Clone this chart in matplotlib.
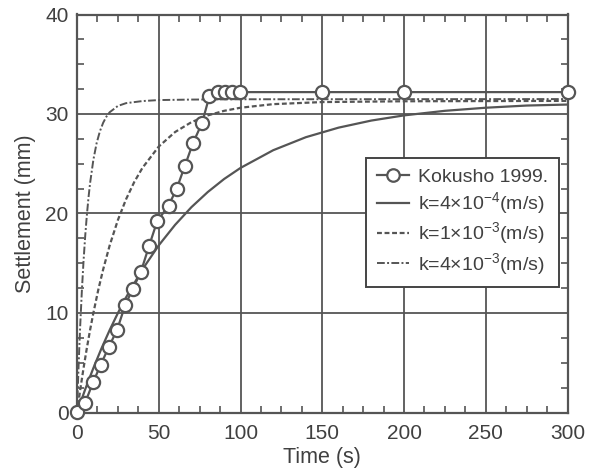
import matplotlib
matplotlib.use("Agg")
import matplotlib.pyplot as plt
from matplotlib.ticker import MultipleLocator

plt.rcParams['font.family'] = ['Liberation Sans', 'DejaVu Sans']
plt.rcParams['mathtext.fontset'] = 'custom'
plt.rcParams['mathtext.rm'] = 'Liberation Sans'
plt.rcParams['mathtext.it'] = 'Liberation Sans:italic'
plt.rcParams['mathtext.default'] = 'regular'

# Observed data (Kokusho 1999)
t_obs = [0, 5, 10, 14.5, 19.5, 24.5, 29.5, 34, 39, 44, 49, 56, 61, 66, 71, 76.5,
         81, 86, 90.5, 95, 99.5, 150, 200, 300]
s_obs = [0.1, 1.0, 3.1, 4.8, 6.6, 8.3, 10.8, 12.4, 14.1, 16.7, 19.2, 20.8, 22.5,
         24.8, 27.1, 29.1, 31.8, 32.2, 32.2, 32.2, 32.2, 32.2, 32.2, 32.2]

# k = 4e-4 m/s (solid)
t_k1 = [0, 5, 10, 15, 20, 25, 30, 40, 50, 60, 70, 80, 90, 100, 120, 140, 160,
        180, 200, 225, 250, 275, 300]
s_k1 = [0, 2.32, 4.46, 6.45, 8.29, 9.99, 11.57, 14.38, 16.80, 18.86, 20.64,
        22.16, 23.47, 24.58, 26.36, 27.67, 28.63, 29.34, 29.86, 30.32, 30.63,
        30.85, 30.95]

# k = 1e-3 m/s (dashed)
t_k2 = [0, 2, 4, 6, 8, 10, 13, 16, 20, 25, 30, 35, 40, 50, 60, 70, 80, 90, 100,
        120, 150, 200, 250, 300]
s_k2 = [0, 2.32, 4.46, 6.45, 8.29, 9.99, 12.32, 14.38, 16.80, 19.34, 21.43,
        23.16, 24.58, 26.73, 28.19, 29.18, 29.86, 30.32, 30.63, 30.99, 31.20,
        31.28, 31.30, 31.32]

# k = 4e-3 m/s (dash-dot)
t_k3 = [0, 0.5, 1, 1.5, 2, 3, 4, 5, 6, 7, 8, 10, 12, 14, 16, 18, 20, 25, 30,
        40, 50, 70, 100, 300]
s_k3 = [0, 2.50, 4.80, 6.92, 8.87, 12.32, 15.23, 17.70, 19.78, 21.55, 23.05,
        25.39, 27.07, 28.26, 29.12, 29.74, 30.18, 30.81, 31.09, 31.30, 31.40,
        31.45, 31.48, 31.50]

labels = ['Kokusho 1999.',
          r'k=4×10$^{-4}$(m/s)',
          r'k=1×10$^{-3}$(m/s)',
          r'k=4×10$^{-3}$(m/s)']

line_c = '#555555'
text_c = '#404040'

fig = plt.figure(figsize=(5.9, 4.68), dpi=100)
ax = fig.add_axes([77/590, 1 - 412.5/468, 490.5/590, 398/468])

ax.plot(t_k1, s_k1, color=line_c, lw=1.6, ls='-', label=labels[1], zorder=3)
ax.plot(t_k2, s_k2, color=line_c, lw=1.6, ls=(0, (2.2, 1.2)), label=labels[2], zorder=3)
ax.plot(t_k3, s_k3, color=line_c, lw=1.4, ls=(0, (4, 1.2, 1, 1.2)), label=labels[3], zorder=3)
ax.plot(t_obs, s_obs, color=line_c, lw=1.6, marker='o', ms=9.5, mfc='white',
        mec=line_c, mew=1.6, label=labels[0], zorder=4, clip_on=False)

ax.set_xlim(0, 300)
ax.set_ylim(0, 40)
ax.xaxis.set_major_locator(MultipleLocator(50))
ax.xaxis.set_minor_locator(MultipleLocator(12.5))
ax.yaxis.set_major_locator(MultipleLocator(10))
ax.yaxis.set_minor_locator(MultipleLocator(2.5))
ax.grid(True, which='major', color=line_c, lw=1.3)
ax.set_axisbelow(True)

ax.tick_params(which='both', direction='in', top=True, right=True,
               colors=line_c, labelcolor=text_c, labelsize=15)
ax.tick_params(which='major', length=0, width=1.3)
ax.tick_params(which='minor', length=5, width=1.2)
ax.tick_params(axis='x', which='major', pad=8)
ax.tick_params(axis='y', which='major', pad=6)

for sp in ax.spines.values():
    sp.set_color(line_c)
    sp.set_linewidth(1.6)

ax.set_xlabel('Time (s)', fontsize=15.5, color=text_c, labelpad=3)
ax.set_ylabel('Settlement (mm)', fontsize=15.5, color=text_c, labelpad=7)

h, l = ax.get_legend_handles_labels()
order = [3, 0, 1, 2]
leg = ax.legend([h[i] for i in order], [l[i] for i in order],
                loc='upper right', bbox_to_anchor=(0.982, 0.64),
                fontsize=14, frameon=True, fancybox=False, framealpha=1,
                edgecolor='#444444', handlelength=1.65, handletextpad=0.45,
                borderpad=0.55, labelspacing=0.22, numpoints=1, borderaxespad=0)
leg.get_frame().set_linewidth(1.4)
for txt in leg.get_texts():
    txt.set_color(text_c)
leg.legend_handles[0].set_markersize(9)

fig.savefig('out.png', dpi=100)
